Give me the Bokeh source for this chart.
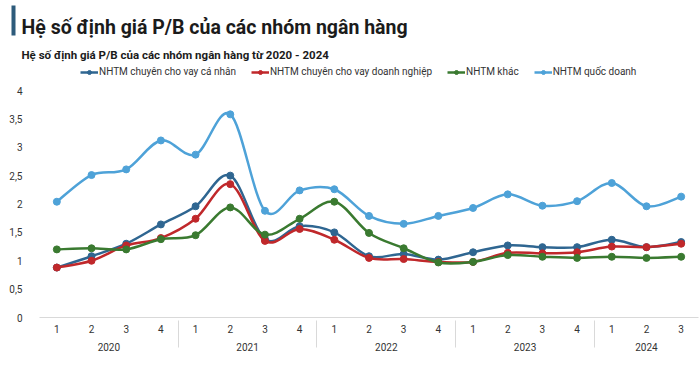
from bokeh.plotting import figure
from bokeh.models import (FactorRange, Range1d, Legend, LegendItem, FixedTicker,
                          CustomJSTickFormatter)
from bokeh.layouts import column
from bokeh.core.properties import value
from bokeh.embed import file_html
from bokeh.resources import INLINE

# ---------------- data ----------------
years = ["2020"] * 4 + ["2021"] * 4 + ["2022"] * 4 + ["2023"] * 4 + ["2024"] * 3
quarters = ["1", "2", "3", "4"] * 4 + ["1", "2", "3"]

ca_nhan = [0.88, 1.08, 1.30, 1.64, 1.96, 2.50, 1.38, 1.61, 1.50, 1.08, 1.12, 1.02,
           1.15, 1.27, 1.24, 1.24, 1.37, 1.24, 1.33]
doanh_nghiep = [0.88, 1.00, 1.27, 1.40, 1.74, 2.35, 1.35, 1.56, 1.37, 1.05, 1.03, 0.98,
                0.98, 1.14, 1.13, 1.15, 1.25, 1.24, 1.30]
khac = [1.20, 1.22, 1.20, 1.38, 1.45, 1.94, 1.46, 1.74, 2.04, 1.49, 1.22, 0.97,
        0.98, 1.10, 1.07, 1.05, 1.07, 1.05, 1.07]
quoc_doanh = [2.04, 2.51, 2.61, 3.12, 2.87, 3.58, 1.88, 2.24, 2.26, 1.79, 1.65, 1.79,
              1.93, 2.17, 1.97, 2.05, 2.37, 1.96, 2.13]

series_names = ["NHTM chuyên cho vay cá nhân", "NHTM chuyên cho vay doanh nghiệp",
                "NHTM khác", "NHTM quốc doanh"]
series_values = [ca_nhan, doanh_nghiep, khac, quoc_doanh]
series_colors = ["#2f6691", "#c0282b", "#3a7a30", "#4ea2d8"]

y_ticks = [0, 0.5, 1, 1.5, 2, 2.5, 3, 3.5, 4]

title_text = "Hệ số định giá P/B của các nhóm ngân hàng"
subtitle_text = "Hệ số định giá P/B của các nhóm ngân hàng từ 2020 - 2024"

FONT = "Roboto"
W = 700
HH = 66

# ---------------- header ----------------
hdr = figure(width=W, height=HH, x_range=Range1d(0, W), y_range=Range1d(HH, 0),
             x_axis_type=None, y_axis_type=None, toolbar_location=None,
             output_backend="svg", min_border=0, outline_line_color=None)
hdr.frame_align = False
hdr.grid.visible = False
hdr.quad(left=[11], right=[15], top=[5], bottom=[35], fill_color="#2d5b7b", line_color=None)
hdr.text(x=[21], y=[27], text=[title_text], text_font=value(FONT), text_font_size="19.5px",
         text_font_style="bold", text_color="#1b1b1b", text_baseline="alphabetic")
hdr.text(x=[21], y=[54], text=[subtitle_text], text_font=value(FONT), text_font_size="11.5px",
         text_font_style="bold", text_color="#1b1b1b", text_baseline="alphabetic")

# ---------------- main chart ----------------
factors = list(zip(years, quarters))
xr = FactorRange(*factors, factor_padding=0, group_padding=0, range_padding=0)
p = figure(width=W, height=367 - HH, x_range=xr, y_range=Range1d(0, 4.423),
           toolbar_location=None, output_backend="svg",
           min_border_left=39, min_border_right=2, min_border_top=0, min_border_bottom=50,
           outline_line_color=None)
p.frame_align = False
p.grid.visible = False

xs = [i + 0.5 for i in range(len(factors))]


def bezier_parts(ys):
    n = len(ys)
    x0, y0, x1, y1, cx0, cy0, cx1, cy1 = [], [], [], [], [], [], [], []
    for i in range(n - 1):
        im1 = max(i - 1, 0)
        ip2 = min(i + 2, n - 1)
        x0.append(xs[i]); y0.append(ys[i])
        x1.append(xs[i + 1]); y1.append(ys[i + 1])
        cx0.append(xs[i] + (xs[i + 1] - xs[im1]) / 6)
        cy0.append(ys[i] + (ys[i + 1] - ys[im1]) / 6)
        cx1.append(xs[i + 1] - (xs[ip2] - xs[i]) / 6)
        cy1.append(ys[i + 1] - (ys[ip2] - ys[i]) / 6)
    return dict(x0=x0, y0=y0, x1=x1, y1=y1, cx0=cx0, cy0=cy0, cx1=cx1, cy1=cy1)


items = []
for name, vals, col in zip(series_names, series_values, series_colors):
    b = bezier_parts(vals)
    br = p.bezier(line_color=col, line_width=2.5, **b)
    sr = p.scatter(x=xs, y=vals, size=7, fill_color=col, line_color=col)
    items.append(LegendItem(label=name, renderers=[br, sr]))

legend = Legend(items=items, orientation="horizontal", location=(41, 240),
                label_text_font=FONT, label_text_font_size="10px", label_text_color="#333333",
                glyph_width=18, glyph_height=10, label_standoff=1, spacing=15,
                padding=0, margin=0, border_line_color=None, background_fill_alpha=0,
                label_height=10)
p.add_layout(legend)

# y axis
p.yaxis.ticker = FixedTicker(ticks=y_ticks)
p.yaxis.formatter = CustomJSTickFormatter(code="return tick.toString().replace('.', ',');")
p.yaxis.axis_line_color = None
p.yaxis.major_tick_line_color = None
p.yaxis.minor_tick_line_color = None
p.yaxis.major_label_text_font = FONT
p.yaxis.major_label_text_font_size = "10px"
p.yaxis.major_label_text_color = "#333333"
p.yaxis.major_label_standoff = 11

# x axis
p.xaxis.axis_line_color = "#d9d9d9"
p.xaxis.major_tick_line_color = None
p.xaxis.minor_tick_line_color = None
p.xaxis.major_tick_out = 0
p.xaxis.major_tick_in = 0
p.xaxis.major_label_text_font = FONT
p.xaxis.major_label_text_font_size = "10px"
p.xaxis.major_label_text_color = "#333333"
p.xaxis.major_label_standoff = 7
p.xaxis.group_text_font = FONT
p.xaxis.group_text_font_size = "10px"
p.xaxis.group_text_font_style = "normal"
p.xaxis.group_text_color = "#333333"
p.xaxis.separator_line_color = "#d9d9d9"
p.xaxis.separator_line_width = 1

layout = column(hdr, p, spacing=0)
open("out.html", "w").write(file_html(layout, INLINE))
